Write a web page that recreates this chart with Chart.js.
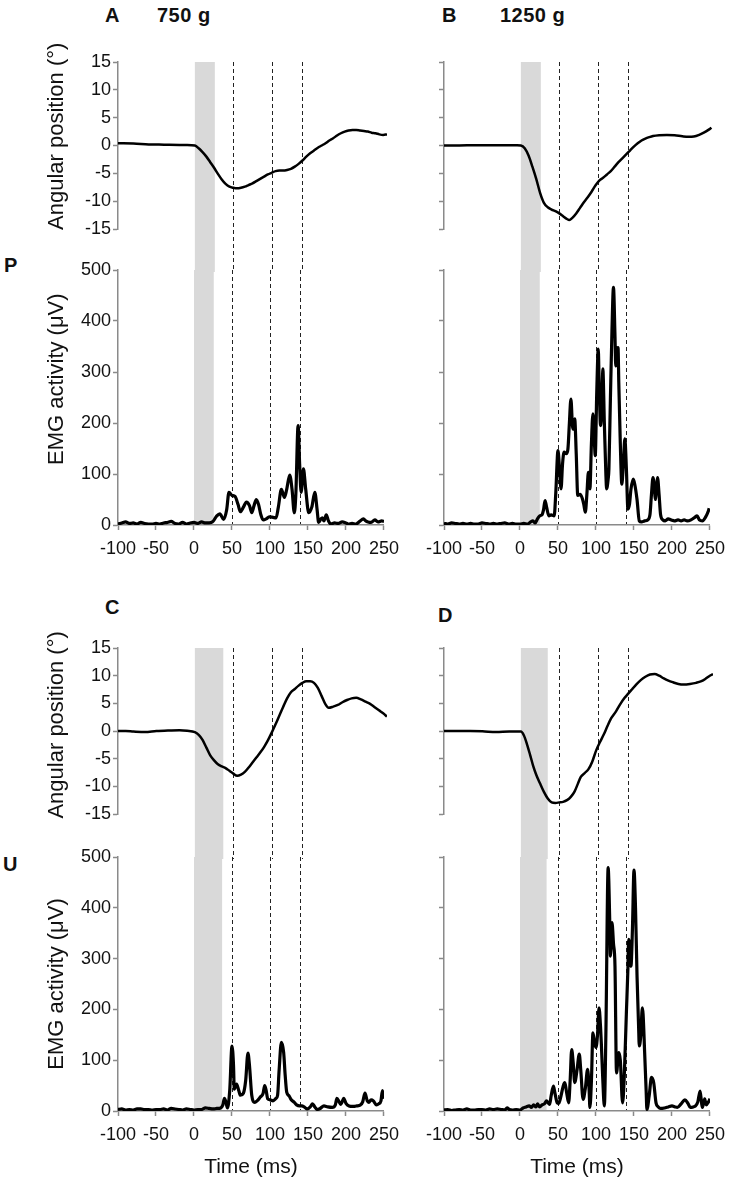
<!DOCTYPE html>
<html>
<head>
<meta charset="utf-8">
<script src="https://cdn.jsdelivr.net/npm/chart.js@4.4.1/dist/chart.umd.min.js"></script>
<style>
  body { margin: 0; background: #fff; width: 733px; height: 1183px; position: relative; overflow: hidden; font-family: "Liberation Sans", Arial, sans-serif; }
  canvas { position: absolute; }
  .lab { position: absolute; font-weight: bold; font-size: 20px; line-height: 20px; color: #111; letter-spacing: 0.5px; }
</style>
</head>
<body>
<div class="lab" style="left:105px;top:5px">A</div>
<div class="lab" style="left:157px;top:5px">750 g</div>
<div class="lab" style="left:442px;top:5px">B</div>
<div class="lab" style="left:500px;top:5px">1250 g</div>
<div class="lab" style="left:4px;top:255px">P</div>
<div class="lab" style="left:105px;top:597px">C</div>
<div class="lab" style="left:438px;top:605px">D</div>
<div class="lab" style="left:3px;top:854px">U</div>

<!-- EMG canvases first so the angle canvases (band continues through the gap) sit on top -->
<canvas id="emgP" style="left:0;top:250px" width="407" height="311"></canvas>
<canvas id="emgB" style="left:400px;top:250px" width="333" height="311"></canvas>
<canvas id="emgU" style="left:0;top:837px" width="407" height="344"></canvas>
<canvas id="emgD" style="left:400px;top:837px" width="333" height="344"></canvas>
<canvas id="angA" style="left:0;top:40px" width="407" height="232"></canvas>
<canvas id="angB" style="left:400px;top:40px" width="333" height="232"></canvas>
<canvas id="angC" style="left:0;top:626px" width="407" height="233"></canvas>
<canvas id="angD" style="left:400px;top:626px" width="333" height="233"></canvas>

<script>
// time markers shared by every panel (ms)
const markerTimes = [50, 100, 140];
const xTicks = [-100, -50, 0, 50, 100, 150, 200, 250];
const angleTicks = [-15, -10, -5, 0, 5, 10, 15];
const emgTicks = [0, 100, 200, 300, 400, 500];

// A - 750 g, angular position
const angA_t = [-100, -80, -60, -40, -20, -10, 0, 5, 10, 15, 20, 25, 30, 35, 40, 45, 50, 55, 60, 65, 70, 75, 80, 85, 90, 95, 100, 105, 110, 115, 120, 125, 130, 135, 140, 145, 150, 155, 160, 165, 170, 175, 180, 185, 190, 195, 200, 205, 210, 215, 220, 225, 230, 235, 240, 245, 250];
const angA_v = [0.4, 0.35, 0.2, 0.15, 0.1, 0.1, 0, -0.5, -1.2, -2, -3, -4, -5.1, -6.1, -6.9, -7.4, -7.6, -7.7, -7.6, -7.4, -7.1, -6.8, -6.4, -6.0, -5.6, -5.2, -4.9, -4.6, -4.5, -4.5, -4.4, -4.2, -3.8, -3.3, -2.7, -2.0, -1.4, -0.9, -0.4, 0.0, 0.4, 0.9, 1.3, 1.8, 2.2, 2.5, 2.7, 2.8, 2.8, 2.7, 2.6, 2.5, 2.3, 2.2, 2.0, 1.9, 2.0];

// B - 1250 g, angular position
const angB_t = [-100, -80, -60, -40, -20, -5, 0, 5, 10, 15, 20, 25, 30, 35, 40, 45, 50, 55, 60, 63, 67, 72, 77, 82, 87, 92, 97, 102, 107, 112, 117, 122, 127, 132, 137, 142, 147, 152, 157, 162, 167, 172, 180, 190, 200, 210, 218, 225, 232, 238, 244, 248];
const angB_v = [0, 0, 0.05, 0.05, 0.05, 0.05, 0, -0.5, -1.8, -3.8, -6.0, -8.5, -10.3, -11.1, -11.5, -11.8, -12.2, -12.7, -13.2, -13.4, -13.0, -12.2, -11.2, -10.2, -9.3, -8.3, -7.2, -6.3, -5.8, -5.2, -4.6, -3.8, -3.0, -2.3, -1.6, -0.9, -0.2, 0.4, 0.9, 1.25, 1.5, 1.7, 1.85, 1.9, 1.85, 1.65, 1.55, 1.6, 1.9, 2.3, 2.8, 3.2];

// P - 750 g, EMG
const emgP_t = [-100, -95, -90, -85, -80, -75, -70, -65, -60, -55, -50, -45, -40, -35, -30, -25, -20, -15, -10, -5, 0, 5, 10, 15, 20, 25, 30, 34, 39, 43, 46, 50, 54, 58, 61, 65, 69, 73, 76, 79, 82, 85, 88, 91, 95, 99, 104, 108, 111, 115, 119, 122, 126, 129, 132, 134, 137, 139, 141, 144, 147, 151, 155, 159, 162, 164, 167, 169, 171, 174, 177, 180, 185, 190, 195, 200, 203, 208, 213, 218, 223, 226, 229, 233, 238, 242, 247, 250];
const emgP_v = [2, 4, 6, 3, 4, 2, 5, 3, 2, 2, 3, 2, 4, 5, 7, 3, 2, 5, 2, 4, 5, 3, 6, 4, 4, 7, 18, 22, 11, 30, 64, 58, 56, 40, 26, 35, 45, 38, 24, 38, 50, 40, 20, 10, 12, 16, 15, 14, 35, 70, 54, 70, 98, 70, 24, 60, 195, 120, 64, 110, 70, 24, 35, 64, 30, 5, 12, 14, 8, 20, 8, 2, 4, 3, 6, 4, 2, 3, 2, 7, 12, 8, 6, 5, 10, 6, 8, 7];

// B - 1250 g, EMG
const emgB_t = [-100, -95, -90, -85, -80, -75, -70, -65, -60, -55, -50, -45, -40, -35, -30, -25, -20, -15, -10, -5, 0, 5, 10, 14, 17, 20, 23, 26, 29, 31, 33, 35, 38, 41, 45, 47, 50, 52, 54, 56, 58, 61, 63, 65, 67, 69, 70, 72, 74, 76, 79, 82, 84, 86, 88, 90, 92, 94, 96, 98, 99, 101, 103, 104, 106, 108, 109, 111, 113, 114, 116, 117, 119, 121, 123, 125, 126, 127, 129, 130, 132, 134, 136, 138, 140, 142, 144, 146, 149, 151, 154, 157, 160, 164, 168, 171, 173, 175, 177, 178, 180, 181, 183, 185, 188, 191, 195, 199, 203, 208, 212, 216, 220, 225, 230, 233, 236, 240, 244, 248, 249];
const emgB_v = [3, 2, 4, 3, 2, 3, 2, 3, 2, 2, 4, 3, 2, 3, 2, 3, 4, 2, 3, 2, 2, 3, 2, 6, 8, 4, 12, 18, 20, 30, 48, 35, 18, 20, 18, 60, 146, 110, 71, 120, 143, 140, 148, 200, 247, 195, 188, 208, 140, 58, 60, 52, 40, 25, 60, 103, 71, 160, 218, 160, 136, 260, 345, 290, 195, 250, 306, 200, 100, 71, 90, 110, 250, 380, 466, 370, 312, 340, 348, 280, 160, 80, 120, 169, 110, 31, 40, 70, 90, 80, 50, 8, 6, 8, 10, 20, 60, 93, 70, 50, 80, 93, 60, 20, 10, 8, 12, 10, 8, 10, 8, 10, 8, 10, 15, 18, 10, 8, 15, 28, 33];

// C - 750 g, angular position
const angC_t = [-100, -90, -80, -65, -50, -35, -20, -10, 0, 5, 10, 15, 20, 25, 30, 35, 40, 45, 50, 55, 60, 65, 70, 75, 80, 85, 90, 95, 100, 105, 110, 115, 120, 125, 130, 135, 140, 145, 150, 155, 160, 165, 170, 174, 180, 186, 192, 198, 204, 210, 216, 222, 228, 234, 240, 245, 250];
const angC_v = [0, 0, -0.1, -0.2, 0, 0.1, 0.15, 0.05, -0.2, -0.7, -1.6, -3.0, -4.4, -5.3, -6.0, -6.4, -6.7, -7.2, -7.7, -8.1, -7.9, -7.4, -6.6, -5.7, -4.8, -3.9, -2.9, -1.7, -0.3, 1.2, 2.8, 4.4, 5.9, 7.0, 7.6, 8.2, 8.7, 9.0, 9.0, 8.7, 7.8, 6.3, 4.8, 4.2, 4.4, 4.7, 5.2, 5.6, 5.9, 6.0, 5.7, 5.3, 4.9, 4.3, 3.7, 3.2, 2.6];

// D - 1250 g, angular position
const angD_t = [-100, -80, -66, -50, -32, -15, 0, 4, 8, 12, 16, 20, 25, 30, 35, 40, 45, 50, 55, 60, 65, 70, 74, 78, 83, 88, 93, 98, 103, 108, 113, 118, 124, 130, 135, 140, 145, 150, 156, 162, 168, 174, 180, 186, 192, 198, 205, 212, 220, 228, 235, 240, 245, 250];
const angD_v = [0, 0, 0, -0.05, -0.2, -0.1, -0.1, -0.8, -2.4, -4.3, -6.3, -7.9, -9.5, -11.0, -12.2, -12.9, -13.0, -12.9, -12.8, -12.5, -11.9, -10.9, -9.6, -8.3, -7.6, -6.9, -5.5, -3.5, -2.0, -0.6, 1.0, 2.4, 3.6, 5.0, 6.0, 6.8, 7.6, 8.4, 9.2, 9.8, 10.2, 10.3, 10.0, 9.5, 9.1, 8.8, 8.5, 8.4, 8.5, 8.7, 9.0, 9.4, 9.9, 10.3];

// U - 750 g, EMG
const emgU_t = [-100, -95, -90, -85, -80, -75, -70, -65, -60, -55, -50, -45, -40, -35, -30, -25, -20, -15, -10, -5, 0, 5, 10, 15, 20, 25, 30, 35, 38, 40, 42, 44, 47, 50, 52, 53, 56, 59, 61, 65, 68, 71, 73, 76, 80, 83, 87, 91, 93, 95, 97, 100, 104, 108, 110, 112, 115, 118, 120, 122, 125, 128, 132, 135, 139, 142, 145, 149, 153, 156, 159, 162, 166, 171, 176, 182, 186, 188, 191, 193, 195, 197, 200, 204, 209, 214, 219, 222, 225, 228, 230, 233, 236, 240, 243, 246, 248, 250];
const emgU_v = [3, 4, 2, 3, 2, 4, 4, 3, 3, 2, 3, 3, 4, 2, 5, 4, 3, 2, 4, 3, 2, 3, 3, 6, 5, 4, 5, 6, 12, 25, 18, 6, 40, 128, 90, 43, 53, 40, 31, 35, 60, 114, 90, 31, 17, 20, 27, 35, 50, 40, 24, 22, 20, 25, 31, 80, 135, 115, 70, 37, 30, 22, 17, 12, 10, 10, 8, 4, 8, 14, 8, 3, 5, 10, 8, 7, 12, 25, 18, 13, 18, 25, 15, 10, 9, 10, 12, 18, 35, 20, 17, 22, 20, 12, 14, 20, 40, 24];

// D - 1250 g, EMG
const emgD_t = [-100, -95, -90, -85, -80, -75, -70, -65, -60, -55, -50, -45, -40, -35, -30, -25, -20, -17, -14, -10, -5, 0, 4, 8, 12, 15, 18, 21, 23, 26, 29, 32, 35, 37, 39, 41, 44, 46, 49, 51, 54, 57, 59, 61, 64, 66, 68, 70, 72, 75, 78, 80, 83, 86, 89, 91, 92, 94, 96, 98, 100, 102, 104, 106, 107, 109, 111, 113, 116, 118, 119, 121, 123, 125, 127, 130, 132, 135, 137, 140, 142, 143, 145, 146, 148, 150, 152, 154, 156, 157, 159, 161, 162, 164, 166, 167, 170, 173, 176, 179, 182, 185, 190, 195, 200, 204, 207, 212, 217, 221, 224, 228, 231, 234, 237, 239, 240, 243, 245, 248, 250];
const emgD_v = [2, 3, 1, 2, 3, 2, 4, 2, 2, 3, 3, 2, 4, 3, 4, 3, 2, 6, 3, 2, 3, 2, 6, 8, 10, 7, 12, 8, 14, 8, 12, 14, 20, 16, 13, 30, 49, 35, 16, 15, 30, 50, 56, 40, 16, 60, 121, 95, 56, 80, 112, 80, 23, 45, 82, 40, 7, 60, 154, 135, 125, 150, 203, 165, 134, 60, 10, 150, 479, 380, 305, 371, 330, 285, 75, 115, 100, 16, 60, 194, 280, 338, 310, 285, 360, 474, 400, 266, 170, 128, 150, 203, 190, 116, 40, 3, 30, 66, 55, 16, 8, 5, 6, 8, 10, 8, 7, 14, 22, 15, 7, 8, 10, 18, 39, 15, 7, 24, 12, 18, 24];

Chart.defaults.font.family = '"Liberation Sans", Arial, sans-serif';
Chart.defaults.color = '#111';

const AXIS = '#8a8a8a';
const NB = '\u00a0';

// grey stimulus window + dashed time markers
// angle panels run them to the canvas edge (into the EMG plot), EMG panels from their plot top
const markers = {
  id: 'markers',
  beforeDatasetsDraw(chart, args, opts) {
    const { ctx, chartArea } = chart;
    const x = chart.scales.x;
    const top = chartArea.top;
    const bottom = opts.toEdge ? chart.height : chartArea.bottom - 1;
    ctx.save();
    const x0 = x.getPixelForValue(0);
    const x1 = x.getPixelForValue(opts.band);
    ctx.fillStyle = '#d9d9d9';
    ctx.fillRect(x0, top, x1 - x0, bottom - top);
    ctx.strokeStyle = '#222';
    ctx.lineWidth = 1;
    ctx.setLineDash([4, 3]);
    markerTimes.forEach(t => {
      const px = Math.round(x.getPixelForValue(t)) + 0.5;
      ctx.beginPath();
      ctx.moveTo(px, top);
      ctx.lineTo(px, bottom);
      ctx.stroke();
    });
    ctx.restore();
  }
};

function panel(id, t, v, o) {
  const pts = t.map((x, i) => ({ x: x, y: v[i] }));
  const isEmg = o.kind === 'emg';
  const yTicks = isEmg ? emgTicks : angleTicks;
  const xScale = isEmg ? {
    type: 'linear', min: -100, max: 250,
    afterFit: s => { s.height = o.xh; },
    afterBuildTicks: s => { s.ticks = xTicks.map(val => ({ value: val })); },
    border: { color: AXIS, width: 1.5 },
    grid: { drawOnChartArea: false, tickLength: 5, tickColor: AXIS, tickWidth: 1.5 },
    ticks: { autoSkip: false, maxRotation: 0, color: '#111', font: { size: 18 }, padding: 8 },
    title: { display: !!o.xtitle, text: 'Time (ms)', color: '#111', font: { size: 21 }, padding: { top: 0, bottom: 1 } }
  } : { type: 'linear', min: -100, max: 250, display: false };

  return new Chart(document.getElementById(id), {
    type: 'line',
    data: {
      datasets: [{
        data: pts,
        borderColor: '#000',
        borderWidth: isEmg ? 3.2 : 2.5,
        pointRadius: 0,
        fill: false,
        cubicInterpolationMode: 'monotone',
        borderJoinStyle: 'round'
      }]
    },
    options: {
      responsive: false,
      animation: false,
      events: [],
      layout: { padding: o.pad },
      plugins: {
        legend: { display: false },
        tooltip: { enabled: false },
        markers: { band: o.band, toEdge: !isEmg }
      },
      scales: {
        x: xScale,
        y: {
          min: yTicks[0], max: yTicks[yTicks.length - 1],
          afterFit: s => { s.width = o.yw; },
          afterBuildTicks: s => { s.ticks = yTicks.map(val => ({ value: val })); },
          border: { color: AXIS, width: 1.5 },
          grid: { drawOnChartArea: false, tickLength: 5, tickColor: AXIS, tickWidth: 1.5 },
          ticks: {
            color: '#111', font: { size: 18 }, padding: 2,
            callback: o.ylabels ? (val => val) : (() => '')
          },
          title: {
            display: !!o.ytitle, text: o.ytitle, color: '#111',
            font: { size: 22 }, padding: { top: 44, bottom: 0 }
          }
        }
      }
    },
    plugins: [markers]
  });
}

// angle canvases reach 2px into the EMG plot so band and dashes overlap there
const angPad = { left: 0, right: 20, top: 22, bottom: 43 };
const angPad2 = { left: 0, right: 20, top: 22, bottom: 45 };
const emgPad = { left: 0, right: 20, top: 20, bottom: 0 };

panel('emgP', emgP_t, emgP_v, { kind: 'emg', pad: emgPad, yw: 118, xh: 36, ylabels: true, ytitle: NB.repeat(6) + 'EMG activity (μV)', band: 26 });
panel('emgB', emgB_t, emgB_v, { kind: 'emg', pad: emgPad, yw: 44, xh: 36, ylabels: false, band: 26 });
panel('emgU', emgU_t, emgU_v, { kind: 'emg', pad: emgPad, yw: 118, xh: 70, xtitle: true, ylabels: true, ytitle: 'EMG activity (μV)', band: 37 });
panel('emgD', emgD_t, emgD_v, { kind: 'emg', pad: emgPad, yw: 44, xh: 70, xtitle: true, ylabels: false, band: 35 });
// leading spaces nudge the rotated titles upward like in the original figure
panel('angA', angA_t, angA_v, { kind: 'ang', pad: angPad, yw: 118, ylabels: true, ytitle: NB.repeat(3) + 'Angular position (°)', band: 26 });
panel('angB', angB_t, angB_v, { kind: 'ang', pad: angPad, yw: 44, ylabels: false, band: 26 });
panel('angC', angC_t, angC_v, { kind: 'ang', pad: angPad2, yw: 118, ylabels: true, ytitle: NB.repeat(2) + 'Angular position (°)', band: 37 });
panel('angD', angD_t, angD_v, { kind: 'ang', pad: angPad2, yw: 44, ylabels: false, band: 35 });
</script>
</body>
</html>
